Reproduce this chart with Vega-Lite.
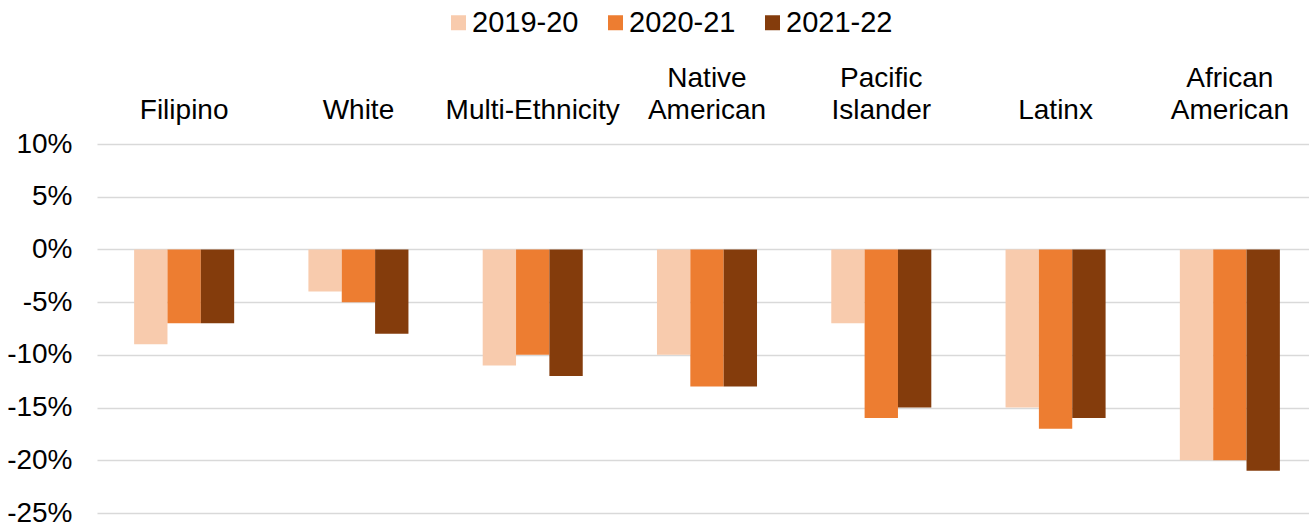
{
  "$schema": "https://vega.github.io/schema/vega-lite/v6.json",
  "width": 1220,
  "height": 369,
  "autosize": {"type": "none"},
  "padding": {"left": 97, "top": 144, "right": 0, "bottom": 12},
  "background": "#ffffff",
  "config": {
    "view": {"stroke": null},
    "font": "Liberation Sans",
    "axis": {"labelFont": "Liberation Sans", "labelColor": "#000000", "labelFontSize": 28},
    "legend": {"labelFont": "Liberation Sans", "labelColor": "#000000", "labelFontSize": 29}
  },
  "data": {
    "values": [
      {"group": "Filipino", "year": "2019-20", "change": -9},
      {"group": "Filipino", "year": "2020-21", "change": -7},
      {"group": "Filipino", "year": "2021-22", "change": -7},
      {"group": "White", "year": "2019-20", "change": -4},
      {"group": "White", "year": "2020-21", "change": -5},
      {"group": "White", "year": "2021-22", "change": -8},
      {"group": "Multi-Ethnicity", "year": "2019-20", "change": -11},
      {"group": "Multi-Ethnicity", "year": "2020-21", "change": -10},
      {"group": "Multi-Ethnicity", "year": "2021-22", "change": -12},
      {"group": "Native American", "year": "2019-20", "change": -10},
      {"group": "Native American", "year": "2020-21", "change": -13},
      {"group": "Native American", "year": "2021-22", "change": -13},
      {"group": "Pacific Islander", "year": "2019-20", "change": -7},
      {"group": "Pacific Islander", "year": "2020-21", "change": -16},
      {"group": "Pacific Islander", "year": "2021-22", "change": -15},
      {"group": "Latinx", "year": "2019-20", "change": -15},
      {"group": "Latinx", "year": "2020-21", "change": -17},
      {"group": "Latinx", "year": "2021-22", "change": -16},
      {"group": "African American", "year": "2019-20", "change": -20},
      {"group": "African American", "year": "2020-21", "change": -20},
      {"group": "African American", "year": "2021-22", "change": -21}
    ]
  },
  "mark": {"type": "bar"},
  "encoding": {
    "x": {
      "field": "group",
      "type": "nominal",
      "sort": null,
      "scale": {"paddingInner": 0.426, "paddingOuter": 0.213},
      "axis": {
        "orient": "top",
        "title": null,
        "domain": false,
        "ticks": false,
        "tickSize": 0,
        "labelAngle": 0,
        "labelPadding": 52,
        "labelLineHeight": 32,
        "labelLimit": 400,
        "labelOverlap": false,
        "labelExpr": "length(split(datum.value, ' ')) > 1 ? split(datum.value, ' ') : ['', datum.value]"
      }
    },
    "xOffset": {
      "field": "year",
      "type": "nominal",
      "sort": ["2019-20", "2020-21", "2021-22"],
      "scale": {"paddingInner": 0, "paddingOuter": 0}
    },
    "y": {
      "field": "change",
      "type": "quantitative",
      "scale": {"domain": [-25, 10], "nice": false},
      "axis": {
        "title": null,
        "values": [-25, -20, -15, -10, -5, 0, 5, 10],
        "domain": false,
        "ticks": false,
        "tickSize": 0,
        "labelPadding": 25,
        "labelExpr": "datum.value + '%'",
        "grid": true,
        "gridColor": "#D9D9D9",
        "gridWidth": 1.5
      }
    },
    "color": {
      "field": "year",
      "type": "nominal",
      "sort": ["2019-20", "2020-21", "2021-22"],
      "scale": {"domain": ["2019-20", "2020-21", "2021-22"], "range": ["#F8CBAD", "#ED7D31", "#843C0C"]},
      "legend": {
        "title": null,
        "orient": "none",
        "direction": "horizontal",
        "columns": 3,
        "legendX": 347,
        "legendY": -136,
        "padding": 0,
        "symbolType": "square",
        "symbolSize": 225,
        "symbolStrokeWidth": 0,
        "labelOffset": -1,
        "columnPadding": 22
      }
    }
  }
}
